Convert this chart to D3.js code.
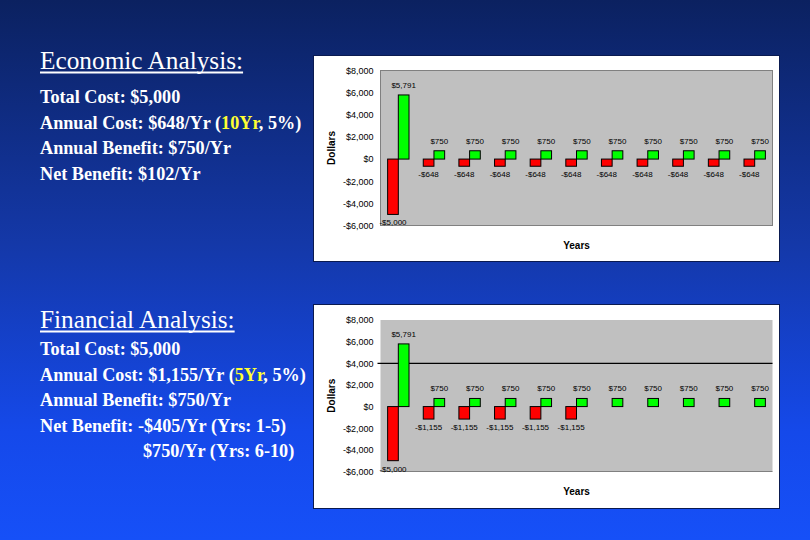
<!DOCTYPE html>
<html>
<head>
<meta charset="utf-8">
<script src="https://cdn.jsdelivr.net/npm/d3@7"></script>
<style>
html,body{margin:0;padding:0;overflow:hidden;}
svg{display:block;}
</style>
</head>
<body>
<svg id="chart" width="810" height="540"></svg>
<script>
// ---- data ----
const years = ["0","1","2","3","4","5","6","7","8","9","10"];
const econCost    = [-5000, -648, -648, -648, -648, -648, -648, -648, -648, -648, -648];
const econBenefit = [5791, 750, 750, 750, 750, 750, 750, 750, 750, 750, 750];
const finCost     = [-5000, -1155, -1155, -1155, -1155, -1155, 0, 0, 0, 0, 0];
const finBenefit  = [5791, 750, 750, 750, 750, 750, 750, 750, 750, 750, 750];
const yTickValues = [-6000, -4000, -2000, 0, 2000, 4000, 6000, 8000];

const econLines = [
  [{t:"Total Cost: $5,000"}],
  [{t:"Annual Cost: $648/Yr ("},{t:"10Yr",y:true},{t:", 5%)"}],
  [{t:"Annual Benefit: $750/Yr"}],
  [{t:"Net Benefit: $102/Yr"}]
];
const finLines = [
  [{t:"Total Cost: $5,000"}],
  [{t:"Annual Cost: $1,155/Yr ("},{t:"5Yr",y:true},{t:", 5%)"}],
  [{t:"Annual Benefit: $750/Yr"}],
  [{t:"Net Benefit: -$405/Yr (Yrs: 1-5)"}],
  [{t:"$750/Yr (Yrs: 6-10)"}]
];

const svg = d3.select("#chart");
const defs = svg.append("defs");
const grad = defs.append("linearGradient").attr("id","bg").attr("x1",0).attr("y1",0).attr("x2",0).attr("y2",1);
grad.append("stop").attr("offset","0%").attr("stop-color","#0b2160");
grad.append("stop").attr("offset","45%").attr("stop-color","#1438a8");
grad.append("stop").attr("offset","80%").attr("stop-color","#1549ea");
grad.append("stop").attr("offset","100%").attr("stop-color","#1650f8");
svg.append("rect").attr("width",810).attr("height",540).attr("fill","url(#bg)");

const loc = d3.formatLocale({decimal:".", thousands:",", grouping:[3], currency:["$",""], minus:"-"});
const fmt = loc.format("$,.0f");

function textBlock(title, titleY, lines, bodyY, indents){
  const g = svg.append("g");
  const tt = g.append("text").attr("x",40).attr("y",titleY)
    .attr("font-family","'Liberation Serif','Times New Roman',serif")
    .attr("font-size",25.3).attr("fill","#fff").text(title);
  const w = tt.node().getComputedTextLength();
  g.append("line").attr("x1",40).attr("x2",40+w).attr("y1",titleY+3.5).attr("y2",titleY+3.5)
    .attr("stroke","#fff").attr("stroke-width",1.8);
  lines.forEach((ln,i)=>{
    const t = g.append("text").attr("x",40+(indents[i]||0)).attr("y",bodyY+i*25.6)
      .attr("font-family","'Liberation Serif','Times New Roman',serif")
      .attr("font-weight","bold").attr("font-size",18.2).attr("fill","#fff");
    ln.forEach(p=>{ t.append("tspan").attr("fill", p.y ? "#ffff33" : "#fff").text(p.t); });
  });
}
textBlock("Economic Analysis:", 69, econLines, 103, []);
textBlock("Financial Analysis:", 328, finLines, 355, [0,0,0,0,103]);

function chart(panel, plot, cost, benefit, opts){
  const g = svg.append("g");
  g.append("rect").attr("x",panel.x).attr("y",panel.y).attr("width",panel.w).attr("height",panel.h)
    .attr("fill","#fff").attr("stroke","#0a1a50").attr("stroke-width",1);
  const x = d3.scaleBand().domain(years).range([plot.x0, plot.x1]).paddingInner(0.4).paddingOuter(0.2);
  const xs = d3.scaleBand().domain(["cost","benefit"]).range([0, x.bandwidth()]);
  const y = d3.scaleLinear().domain([-6000, 8000]).range([plot.y1, plot.y0]);

  g.append("rect").attr("x",plot.x0).attr("y",plot.y0).attr("width",plot.x1-plot.x0).attr("height",plot.y1-plot.y0)
    .attr("fill","#c0c0c0").attr("stroke", opts.border ? "#808080" : "none").attr("stroke-width",1);
  if(!opts.border){
    g.append("line").attr("x1",plot.x0).attr("x2",plot.x1).attr("y1",plot.y1).attr("y2",plot.y1)
      .attr("stroke","#808080").attr("stroke-width",1.2);
  }
  if(opts.grid !== undefined){
    g.append("line").attr("x1",plot.x0-3).attr("x2",plot.x1).attr("y1",y(opts.grid)).attr("y2",y(opts.grid))
      .attr("stroke","#000").attr("stroke-width",1.2);
  }

  const ax = g.append("g").attr("transform",`translate(${plot.x0},0)`)
    .call(d3.axisLeft(y).tickValues(yTickValues).tickFormat(fmt).tickSize(0).tickPadding(7));
  ax.select(".domain").remove();
  ax.selectAll("text").attr("font-family","'Liberation Sans',Arial,sans-serif").attr("font-size",9).attr("fill","#000");

  const data = years.map((yr,i)=>({yr, cost:cost[i], benefit:benefit[i]}));
  const bars = g.append("g");
  bars.selectAll("rect.c").data(data.filter(d=>d.cost!==0)).join("rect").attr("class","c")
    .attr("x",d=>x(d.yr)+xs("cost")).attr("width",xs.bandwidth())
    .attr("y",d=>y(Math.max(0,d.cost))).attr("height",d=>Math.abs(y(d.cost)-y(0)))
    .attr("fill","#ff0000").attr("stroke","#000").attr("stroke-width",1);
  bars.selectAll("rect.b").data(data.filter(d=>d.benefit!==0)).join("rect").attr("class","b")
    .attr("x",d=>x(d.yr)+xs("benefit")).attr("width",xs.bandwidth())
    .attr("y",d=>y(Math.max(0,d.benefit))).attr("height",d=>Math.abs(y(d.benefit)-y(0)))
    .attr("fill","#00ff00").attr("stroke","#000").attr("stroke-width",1);

  const lab = g.append("g").attr("font-family","'Liberation Sans',Arial,sans-serif").attr("font-size",8)
    .attr("fill","#000").attr("text-anchor","middle");
  lab.selectAll("text.c").data(data.filter(d=>d.cost!==0)).join("text").attr("class","c")
    .attr("x",d=>x(d.yr)+xs("cost")+xs.bandwidth()/2).attr("y",d=>y(d.cost)+11)
    .text(d=>fmt(d.cost));
  lab.selectAll("text.b").data(data.filter(d=>d.benefit!==0)).join("text").attr("class","b")
    .attr("x",d=>x(d.yr)+xs("benefit")+xs.bandwidth()/2).attr("y",d=>y(d.benefit)-7)
    .text(d=>fmt(d.benefit));

  g.append("text").attr("transform",`translate(${panel.x+19},${(plot.y0+plot.y1)/2}) rotate(-90)`)
    .attr("text-anchor","middle").attr("dominant-baseline","middle")
    .attr("font-family","'Liberation Sans',Arial,sans-serif").attr("font-weight","bold").attr("font-size",10)
    .text("Dollars");
  g.append("text").attr("x",(plot.x0+plot.x1)/2).attr("y",plot.y1+23).attr("text-anchor","middle")
    .attr("font-family","'Liberation Sans',Arial,sans-serif").attr("font-weight","bold").attr("font-size",10)
    .text("Years");
}

chart({x:313.5,y:55.5,w:466,h:206}, {x0:380.5,x1:772.5,y0:70.5,y1:225.5}, econCost, econBenefit, {border:true});
chart({x:313.5,y:304.5,w:466,h:204}, {x0:380.5,x1:772.5,y0:320,y1:471.5}, finCost, finBenefit, {border:false, grid:4000});
</script>
</body>
</html>
